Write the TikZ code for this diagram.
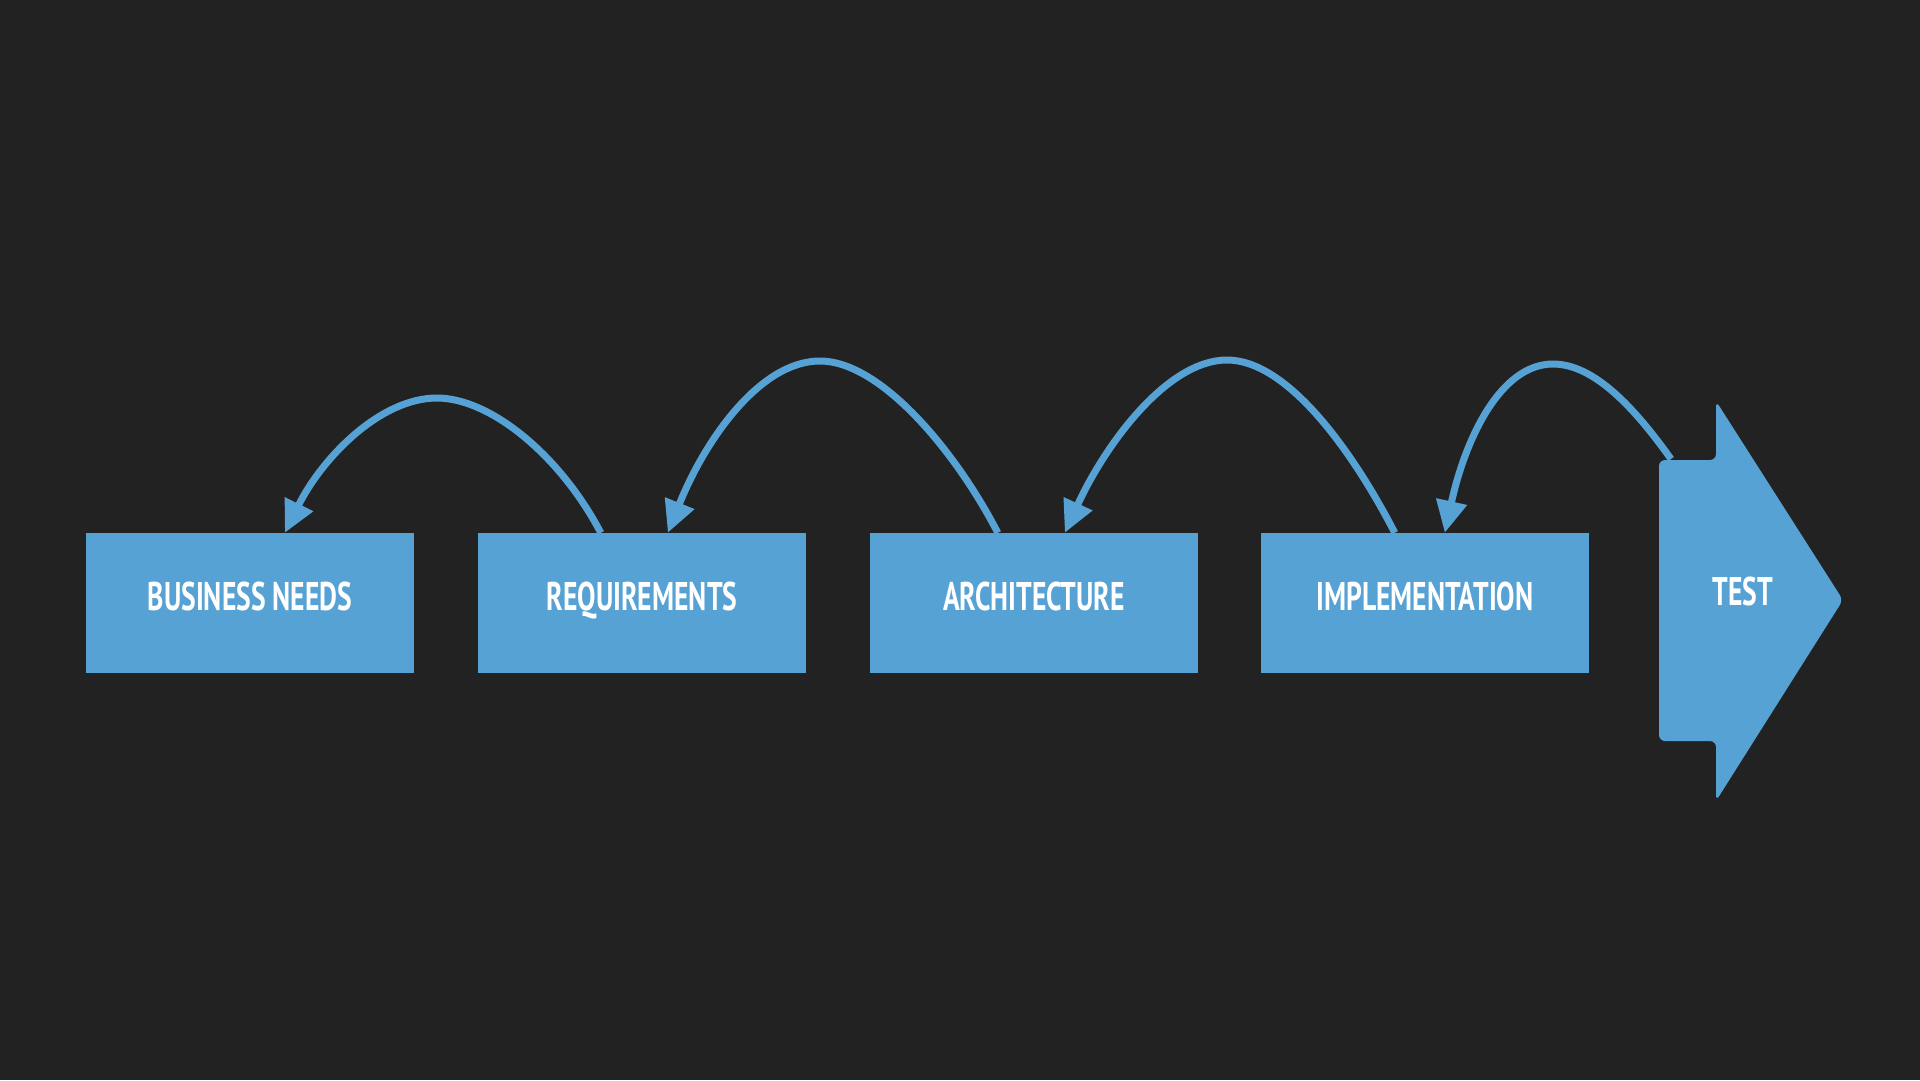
\documentclass[tikz,border=0pt]{standalone}
\usepackage{fontspec}
\newfontfamily\dinfont[FakeStretch=0.69]{PT Sans}
\usetikzlibrary{arrows.meta,calc}
\definecolor{bgc}{HTML}{222222}
\definecolor{blu}{HTML}{57A2D4}
\tikzset{
  stagebox/.style={fill=blu, draw=none, minimum width=328pt, minimum height=140pt, inner sep=0pt,
    text=white, font=\dinfont\bfseries\fontsize{40}{48}\selectfont, text depth=14pt},
  backarrow/.style={draw=blu, line width=7pt, -{Triangle[length=32pt,width=30pt]}},
}
\begin{document}
\begin{tikzpicture}[x=1pt,y=-1pt]
\fill[bgc] (0,0) rectangle (1920,1080);
\useasboundingbox (0,0) rectangle (1920,1080);
\node[stagebox] (b1) at (250,603) {BUSINESS NEEDS};
\node[stagebox] (b2) at (642,603) {REQUIREMENTS};
\node[stagebox] (b3) at (1034,603) {ARCHITECTURE};
\node[stagebox] (b4) at (1425,603) {IMPLEMENTATION};
\fill[blu, rounded corners=6pt] (1659,460) -- (1716,460) -- (1716,401) -- (1843,600) -- (1716,801) -- (1716,741) -- (1659,741) -- cycle;
\node[text=white, font=\dinfont\bfseries\fontsize{40}{48}\selectfont, inner sep=0pt] (test) at (1743,591) {TEST};
\coordinate (tcorner) at (1671,459);
% arrows
\draw[backarrow] ($(b2.north west)+(123,0)$) .. controls (560,455) and (490,398) .. (437,398)
   .. controls (380,398) and (322,458) .. ($(b1.north west)+(199,0)$);
\draw[backarrow] ($(b3.north west)+(128,0)$) .. controls (955,450) and (880,361) .. (820,361)
   .. controls (760,361) and (705,440) .. ($(b2.north west)+(190,0)$);
\draw[backarrow] ($(b4.north west)+(134,0)$) .. controls (1352,450) and (1287,360) .. (1227,360)
   .. controls (1167,360) and (1105,445) .. ($(b3.north west)+(195,0)$);
\draw[backarrow] (tcorner) .. controls (1636,410) and (1595,364) .. (1553,364)
   .. controls (1500,364) and (1465,440) .. ($(b4.north west)+(184,0)$);
\end{tikzpicture}
\end{document}
